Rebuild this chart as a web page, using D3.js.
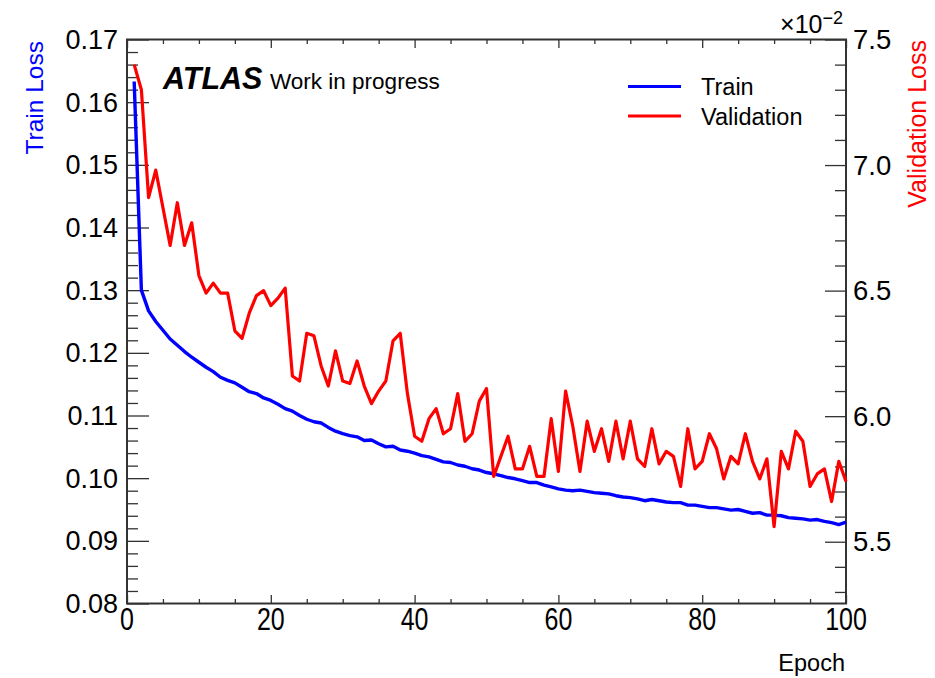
<!DOCTYPE html>
<html>
<head>
<meta charset="utf-8">
<title>Train / Validation loss</title>
<script src="https://d3js.org/d3.v7.min.js"></script>
<style>
  body { margin: 0; background: #fff; }
  svg text { font-family: "Liberation Sans", Arial, Helvetica, sans-serif; }
  .tick line { stroke: #333; stroke-width: 1.3; }
</style>
</head>
<body>
<div id="chart"></div>
<script>
// epochs 1..100
var epochs = d3.range(1, 101);

// train loss per epoch (left axis)
var trainLoss = [
  0.1633, 0.1300, 0.1267, 0.1250, 0.1236, 0.1222, 0.1212, 0.1202, 0.1193, 0.1185,
  0.1177, 0.1170, 0.1161, 0.1156, 0.1152, 0.1145, 0.1138, 0.1135, 0.1128, 0.1124,
  0.1118, 0.1111, 0.1107, 0.1100, 0.1094, 0.1090, 0.1088, 0.1081, 0.1075, 0.1071,
  0.1068, 0.1066, 0.1060, 0.1061, 0.1055, 0.1050, 0.1051, 0.1045, 0.1043, 0.1040,
  0.1036, 0.1034, 0.1030, 0.1026, 0.1025, 0.1021, 0.1019, 0.1015, 0.1013, 0.1009,
  0.1007, 0.1004, 0.1001, 0.0999, 0.0996, 0.0993, 0.0993, 0.0989, 0.0986, 0.0983,
  0.0981, 0.0980, 0.0981, 0.0979, 0.0977, 0.0976, 0.0975, 0.0972, 0.0970, 0.0969,
  0.0967, 0.0964, 0.0966, 0.0964, 0.0962, 0.0961, 0.0961, 0.0957, 0.0957, 0.0955,
  0.0953, 0.0953, 0.0951, 0.0949, 0.0950, 0.0947, 0.0944, 0.0945, 0.0941, 0.0941,
  0.0940, 0.0937, 0.0936, 0.0935, 0.0933, 0.0934, 0.0931, 0.0929, 0.0926, 0.0930
];

// validation loss per epoch, in units of 1e-2 (right axis)
var valLoss = [
  7.40, 7.30, 6.87, 6.98, 6.83, 6.68, 6.85, 6.68, 6.77, 6.56,
  6.49, 6.53, 6.49, 6.49, 6.34, 6.31, 6.41, 6.48, 6.50, 6.44,
  6.47, 6.51, 6.16, 6.14, 6.33, 6.32, 6.20, 6.12, 6.26, 6.14,
  6.13, 6.22, 6.12, 6.05, 6.10, 6.14, 6.30, 6.33, 6.09, 5.92,
  5.90, 5.99, 6.03, 5.93, 5.95, 6.09, 5.90, 5.93, 6.06, 6.11,
  5.76, 5.84, 5.92, 5.79, 5.79, 5.88, 5.76, 5.76, 5.99, 5.78,
  6.10, 5.96, 5.78, 5.98, 5.86, 5.95, 5.82, 5.98, 5.83, 5.98,
  5.83, 5.80, 5.95, 5.81, 5.86, 5.84, 5.72, 5.95, 5.79, 5.82,
  5.93, 5.87, 5.75, 5.84, 5.81, 5.93, 5.82, 5.75, 5.83, 5.56,
  5.86, 5.79, 5.94, 5.90, 5.72, 5.77, 5.79, 5.66, 5.82, 5.74
];

var xMajor = [0, 20, 40, 60, 80, 100];
var leftMajor = [0.08, 0.09, 0.10, 0.11, 0.12, 0.13, 0.14, 0.15, 0.16, 0.17];
var leftLabels = ["0.08", "0.09", "0.10", "0.11", "0.12", "0.13", "0.14", "0.15", "0.16", "0.17"];
var rightMajor = [5.5, 6.0, 6.5, 7.0, 7.5];
var rightLabels = ["5.5", "6.0", "6.5", "7.0", "7.5"];

var seriesNames = ["Train", "Validation"];
var seriesColors = ["#0000ff", "#ff0000"];

var width = 935, height = 678;
var frame = {left: 127, right: 846, top: 39.5, bottom: 603.5};

var svg = d3.select("#chart").append("svg")
  .attr("width", width)
  .attr("height", height);

var x = d3.scaleLinear().domain([0, 100]).range([frame.left, frame.right]);
var yL = d3.scaleLinear().domain([0.08, 0.17]).range([frame.bottom, frame.top]);
var yR = d3.scaleLinear().domain([5.254, 7.5]).range([frame.bottom, frame.top]);

// minor tick values
var xMinor = d3.range(0, 101, 5).filter(v => v % 20 != 0);
var leftMinor = d3.range(0, 46).map(i => 0.08 + i * 0.002).filter((v, i) => i % 5 != 0);
var rightMinor = d3.range(0, 23).map(i => 5.3 + i * 0.1).filter(v => Math.abs(v * 2 - Math.round(v * 2)) > 0.01 && v < 7.5);

function tickAxis(axis, g) {
  g.call(axis);
  g.select(".domain").remove();
  g.selectAll("text").remove();
}

// bottom + top ticks (inside)
tickAxis(d3.axisBottom(x).tickValues(xMajor).tickSize(-8.5), svg.append("g").attr("transform", `translate(0,${frame.bottom})`));
tickAxis(d3.axisBottom(x).tickValues(xMinor).tickSize(-4.5), svg.append("g").attr("transform", `translate(0,${frame.bottom})`));
tickAxis(d3.axisTop(x).tickValues(xMajor).tickSize(-8.5), svg.append("g").attr("transform", `translate(0,${frame.top})`));
tickAxis(d3.axisTop(x).tickValues(xMinor).tickSize(-4.5), svg.append("g").attr("transform", `translate(0,${frame.top})`));

// left ticks
tickAxis(d3.axisLeft(yL).tickValues(leftMajor).tickSize(-22), svg.append("g").attr("transform", `translate(${frame.left},0)`));
tickAxis(d3.axisLeft(yL).tickValues(leftMinor).tickSize(-11), svg.append("g").attr("transform", `translate(${frame.left},0)`));

// right ticks
tickAxis(d3.axisRight(yR).tickValues(rightMajor).tickSize(-21), svg.append("g").attr("transform", `translate(${frame.right},0)`));
tickAxis(d3.axisRight(yR).tickValues(rightMinor).tickSize(-11), svg.append("g").attr("transform", `translate(${frame.right},0)`));

// frame
svg.append("rect")
  .attr("x", frame.left).attr("y", frame.top)
  .attr("width", frame.right - frame.left)
  .attr("height", frame.bottom - frame.top)
  .attr("fill", "none")
  .attr("stroke", "#333")
  .attr("stroke-width", 2);

// tick labels
svg.selectAll(".lLab").data(leftMajor).join("text")
  .attr("x", 118).attr("y", d => yL(d) + 9.5)
  .attr("text-anchor", "end")
  .style("font-size", "27px")
  .text((d, i) => leftLabels[i]);

svg.selectAll(".rLab").data(rightMajor).join("text")
  .attr("x", 853).attr("y", d => yR(d) + 9.5)
  .style("font-size", "27.5px")
  .text((d, i) => rightLabels[i]);

svg.selectAll(".xLab").data(xMajor).join("text")
  .attr("transform", d => `translate(${x(d)},630) scale(1,1.25)`)
  .attr("text-anchor", "middle")
  .style("font-size", "25px")
  .text(d => d);

// axis titles
svg.append("text")
  .attr("transform", "translate(43,41) rotate(-90)")
  .attr("text-anchor", "end")
  .attr("fill", "#0000ff")
  .style("font-size", "24.5px")
  .text("Train Loss");

svg.append("text")
  .attr("transform", "translate(926,40) rotate(-90)")
  .attr("text-anchor", "end")
  .attr("fill", "#ff0000")
  .style("font-size", "25px")
  .text("Validation Loss");

svg.append("text")
  .attr("x", 845).attr("y", 671)
  .attr("text-anchor", "end")
  .style("font-size", "23.5px")
  .text("Epoch");

// x10^-2 exponent
var expo = svg.append("text")
  .attr("x", 843).attr("y", 33)
  .attr("text-anchor", "end")
  .style("font-size", "25px");
expo.append("tspan").text("\u00d710");
expo.append("tspan").attr("dy", -9).style("font-size", "18px").text("\u22122");

// ATLAS label
svg.append("text")
  .attr("x", 163).attr("y", 89)
  .style("font-size", "30.5px")
  .style("font-weight", "bold")
  .style("font-style", "italic")
  .text("ATLAS");
svg.append("text")
  .attr("x", 270).attr("y", 89)
  .style("font-size", "22.5px")
  .text("Work in progress");

// lines
var trainLine = d3.line().x((d, i) => x(epochs[i])).y(d => yL(d));
var valLine = d3.line().x((d, i) => x(epochs[i])).y(d => yR(d));

svg.append("path")
  .datum(trainLoss)
  .attr("d", trainLine)
  .attr("fill", "none")
  .attr("stroke", seriesColors[0])
  .attr("stroke-width", 3.4)
  .attr("stroke-linejoin", "round");

svg.append("path")
  .datum(valLoss)
  .attr("d", valLine)
  .attr("fill", "none")
  .attr("stroke", seriesColors[1])
  .attr("stroke-width", 3.2)
  .attr("stroke-linejoin", "round");

// legend
var legend = svg.append("g");
var legY = [86.5, 116];
seriesNames.forEach(function(name, i) {
  legend.append("line")
    .attr("x1", 628).attr("x2", 681)
    .attr("y1", legY[i]).attr("y2", legY[i])
    .attr("stroke", seriesColors[i])
    .attr("stroke-width", 3.2);
  legend.append("text")
    .attr("x", 701).attr("y", legY[i] + 8.5)
    .style("font-size", "23.5px")
    .text(name);
});
</script>
</body>
</html>
